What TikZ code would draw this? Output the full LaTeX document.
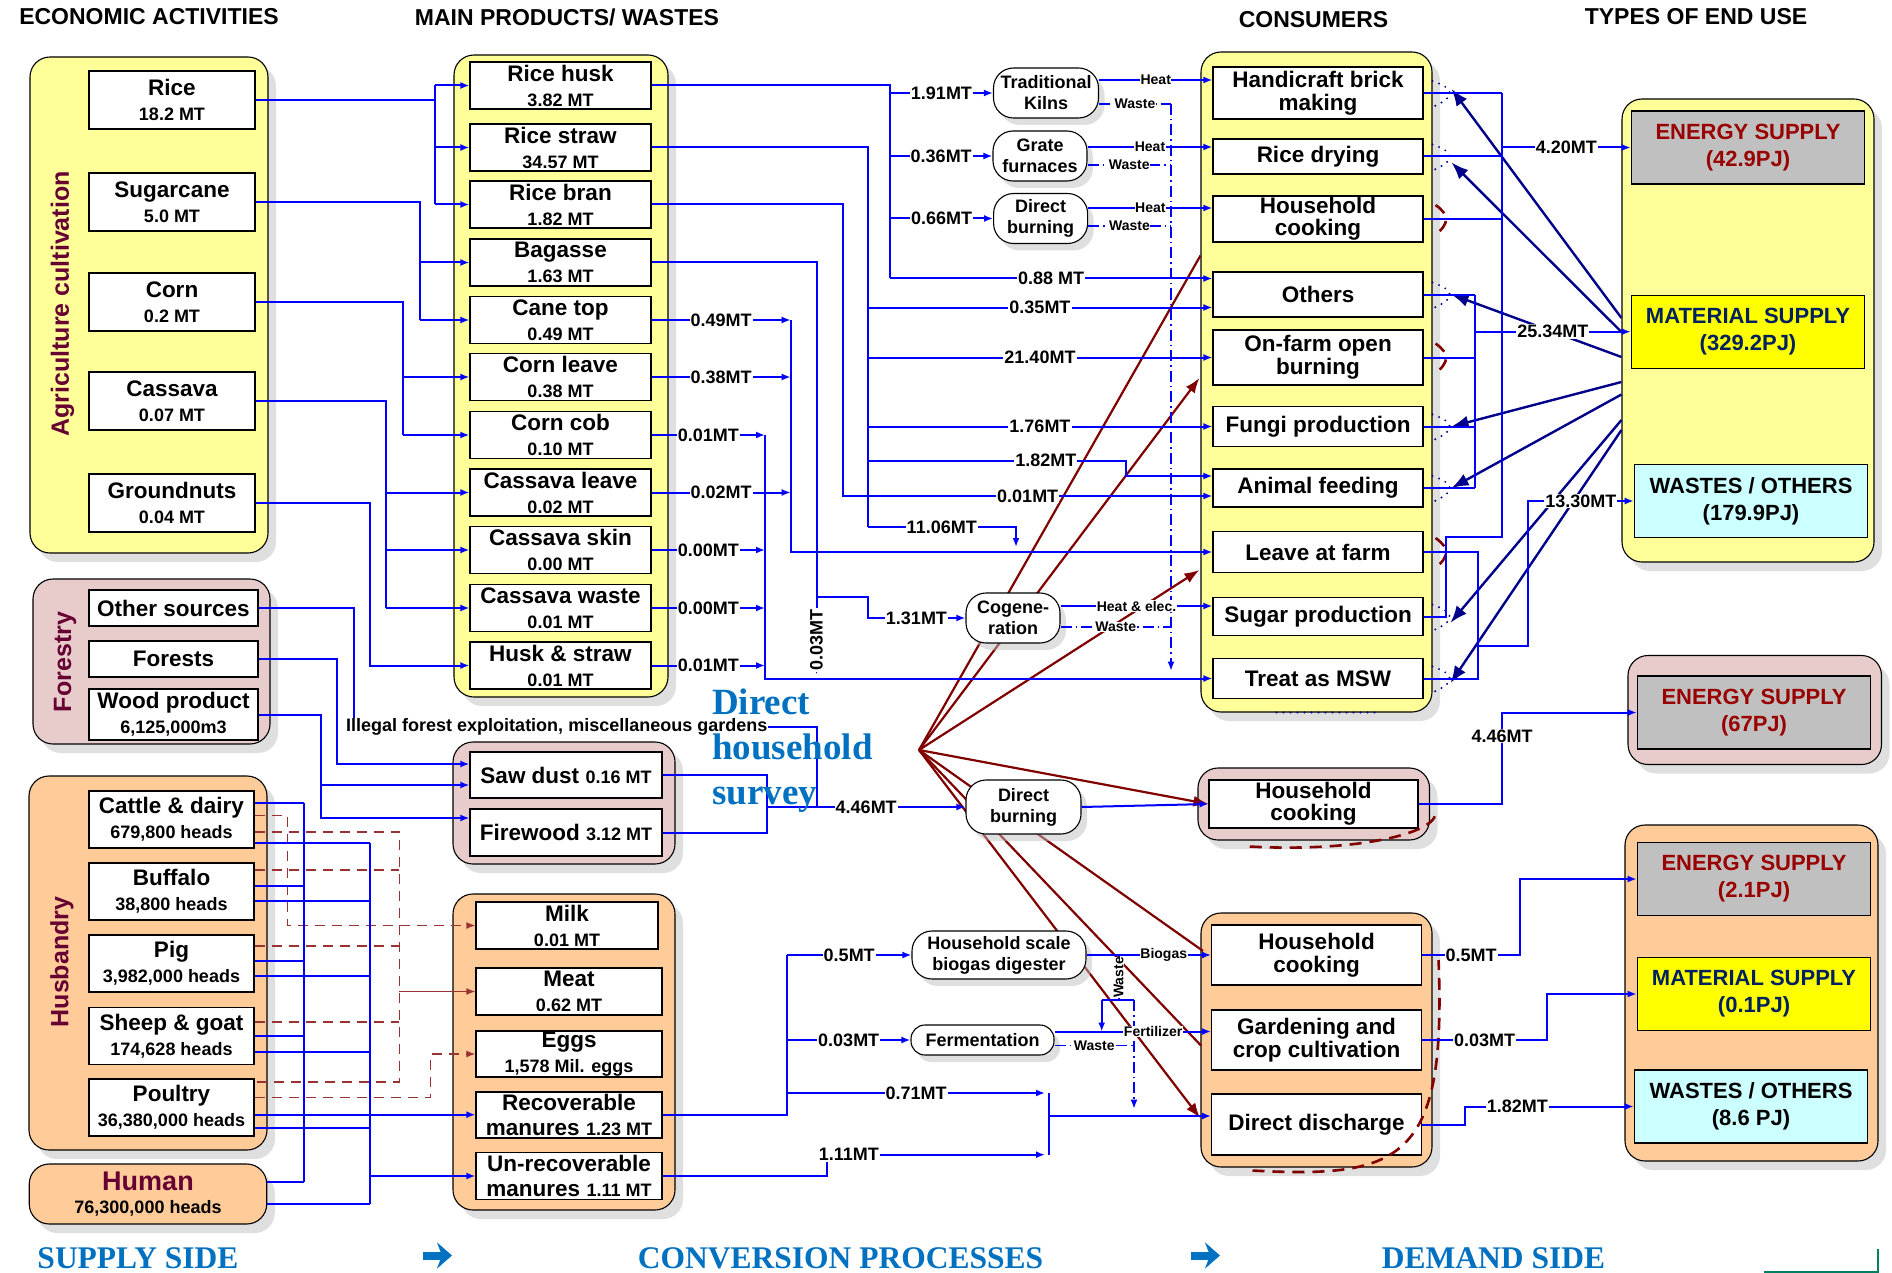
\documentclass[tikz,border=0pt]{standalone}
\usepackage{fontspec}
\setmainfont{Liberation Sans}
\newfontfamily\sideserif{Liberation Serif}
\usetikzlibrary{arrows.meta,shadows}

\definecolor{agrifill}{RGB}{255,255,153}
\definecolor{forfill}{RGB}{232,204,204}
\definecolor{husfill}{RGB}{255,204,153}
\definecolor{greyfill}{RGB}{192,192,192}
\definecolor{cyanfill}{RGB}{204,255,255}
\definecolor{yelfill}{RGB}{255,255,0}
\definecolor{flowblue}{RGB}{0,0,255}
\definecolor{navyline}{RGB}{0,0,139}
\definecolor{redline}{RGB}{128,0,0}
\definecolor{dashbrown}{RGB}{153,51,51}
\definecolor{maroontxt}{RGB}{102,0,51}
\definecolor{energytxt}{RGB}{153,0,0}
\definecolor{materialtxt}{RGB}{0,32,96}
\definecolor{sideblue}{RGB}{0,112,192}
\definecolor{cornerteal}{RGB}{0,128,96}

\newcommand{\txtbig}{\fontsize{22.5}{25}\selectfont\bfseries}
\newcommand{\txtmid}{\fontsize{18}{21}\selectfont\bfseries}
\newcommand{\txtsml}{\fontsize{14}{15}\selectfont\bfseries}
\newcommand{\txtgrp}{\fontsize{25}{28}\selectfont\bfseries}
\newcommand{\txtend}{\fontsize{22}{27}\selectfont\bfseries}
\newcommand{\txtside}{\sideserif\fontsize{31.5}{34}\selectfont\bfseries}

\tikzset{
  grp/.style={draw, line width=1.1pt, rounded corners=20pt, drop shadow={shadow xshift=8pt, shadow yshift=-9pt, fill=black!25}},
  box/.style={draw, fill=white, line width=1.1pt, inner sep=0pt, align=center, font=\txtbig},
  src/.style={box, minimum width=166pt, minimum height=58pt},
  prod/.style={box, minimum width=181pt, minimum height=47pt},
  herd/.style={box, minimum width=165pt, minimum height=57pt},
  cons/.style={box, minimum width=210pt},
  endbox/.style={box, minimum width=233.5pt, minimum height=73pt, font=\txtend},
  proc/.style={draw, fill=white, line width=1.1pt, rounded corners=20pt, inner sep=0pt, align=center, font=\txtmid, drop shadow={shadow xshift=6pt, shadow yshift=-7pt, fill=black!25}},
  flow/.style={draw=flowblue, line width=2pt},
  waste/.style={draw=flowblue, line width=1.2pt, dash pattern=on 11pt off 4pt on 1.5pt off 4pt},
  lbl/.style={fill=white, inner sep=1pt, font=\txtmid},
  hlbl/.style={fill=white, inner sep=0.5pt, font=\txtsml},
  navy/.style={draw=navyline, line width=2.4pt, -{Latex[length=17pt,width=13pt]}},
  fan/.style={draw=redline, line width=2.2pt},
  fanarrow/.style={fan, -{Latex[length=15pt,width=11pt]}},
  dung/.style={draw=dashbrown, line width=1.5pt, dash pattern=on 10pt off 7pt},
  dotarc/.style={draw=navyline, line width=2.2pt, line cap=round, dash pattern=on 0pt off 7pt},
  redarc/.style={draw=redline, line width=2.6pt, dash pattern=on 12pt off 8pt},
  grplbl/.style={rotate=90, font=\txtgrp, text=maroontxt},
  headline/.style={font=\fontsize{23}{25}\selectfont\bfseries},
  sidearrow/.style={draw=sideblue, line width=8pt, -{Stealth[length=15pt,width=26pt,inset=5pt]}},
}

\begin{document}
\begin{tikzpicture}[x=1pt, y=-1pt, >={Latex[length=9pt,width=7pt]}]
\useasboundingbox (0,0) rectangle (1892,1273);

\node[headline] (tecon) at (149,17) {ECONOMIC ACTIVITIES};
\node[headline] (tprod) at (567,17) {MAIN PRODUCTS/ WASTES};
\node[headline] (tcons) at (1313.5,20) {CONSUMERS};
\node[headline] (tend) at (1696,17) {TYPES OF END USE};

\node[grp, fill=agrifill, minimum width=238pt, minimum height=496pt] (agri) at (149,305) {};
\node[grp, fill=agrifill, minimum width=214pt, minimum height=642pt] (prodgrp) at (561,376) {};
\node[grp, fill=forfill, minimum width=237pt, minimum height=165pt] (forgrp) at (151.5,661.5) {};
\node[grp, fill=husfill, minimum width=238pt, minimum height=374pt] (husgrp) at (148,963) {};
\node[grp, fill=husfill, minimum width=237.5pt, minimum height=60pt, align=center, font=\txtmid] (human) at (148,1194) {\textcolor{maroontxt}{\fontsize{27}{30}\selectfont Human}\\[2pt]76,300,000 heads};
\node[grp, fill=forfill, minimum width=222pt, minimum height=122pt] (woodgrp) at (564,803) {};
\node[grp, fill=husfill, minimum width=222pt, minimum height=316pt] (hprodgrp) at (564,1052) {};
\node[grp, fill=agrifill, minimum width=231pt, minimum height=660pt] (consgrp) at (1316.5,382) {};
\node[grp, fill=forfill, minimum width=231.5pt, minimum height=72pt] (consgrpB) at (1313.75,804) {};
\node[grp, fill=husfill, minimum width=231pt, minimum height=254pt] (consgrpC) at (1316.5,1040) {};
\node[grp, fill=agrifill, minimum width=252pt, minimum height=463pt] (endgrpA) at (1748,330.5) {};
\node[grp, fill=forfill, minimum width=253.5pt, minimum height=109pt] (endgrpB) at (1754.75,710) {};
\node[grp, fill=husfill, minimum width=253pt, minimum height=336pt] (endgrpC) at (1751.5,993) {};

\node[grplbl] (agrilbl) at (62.5,304) {Agriculture cultivation};
\node[grplbl] (forlbl) at (65,662) {Forestry};
\node[grplbl] (huslbl) at (62,962) {Husbandry};

\node[src] (rice) at (172,100) {Rice\\{\txtmid 18.2 MT}};
\node[src] (sugar) at (172,202) {Sugarcane\\{\txtmid 5.0 MT}};
\node[src] (corn) at (172,302) {Corn\\{\txtmid 0.2 MT}};
\node[src] (cassava) at (172,401) {Cassava\\{\txtmid 0.07 MT}};
\node[src] (gnuts) at (172,503) {Groundnuts\\{\txtmid 0.04 MT}};

\node[prod] (husk) at (560.5,85.5) {Rice husk\\{\txtmid 3.82 MT}};
\node[prod] (straw) at (560.5,147.5) {Rice straw\\{\txtmid 34.57 MT}};
\node[prod] (bran) at (560.5,204.5) {Rice bran\\{\txtmid 1.82 MT}};
\node[prod] (bagasse) at (560.5,262.5) {Bagasse\\{\txtmid 1.63 MT}};
\node[prod] (canetop) at (560.5,320) {Cane top\\{\txtmid 0.49 MT}};
\node[prod] (cornleave) at (560.5,377) {Corn leave\\{\txtmid 0.38 MT}};
\node[prod] (corncob) at (560.5,435) {Corn cob\\{\txtmid 0.10 MT}};
\node[prod] (cassleave) at (560.5,492.5) {Cassava leave\\{\txtmid 0.02 MT}};
\node[prod] (cassskin) at (560.5,550) {Cassava skin\\{\txtmid 0.00 MT}};
\node[prod] (casswaste) at (560.5,608) {Cassava waste\\{\txtmid 0.01 MT}};
\node[prod] (huskstraw) at (560.5,665.5) {Husk \& straw\\{\txtmid 0.01 MT}};

\node[box, minimum width=169pt, minimum height=36pt] (othersrc) at (173.5,608) {Other sources};
\node[box, minimum width=169pt, minimum height=36pt] (forests) at (173.5,659) {Forests};
\node[box, minimum width=169pt, minimum height=51pt] (woodprod) at (173.5,714.5) {Wood product\\{\txtmid 6,125,000m3}};

\node[herd] (cattle) at (171.5,819.5) {Cattle \& dairy\\{\txtmid 679,800 heads}};
\node[herd] (buffalo) at (171.5,891.5) {Buffalo\\{\txtmid 38,800 heads}};
\node[herd] (pig) at (171.5,963.5) {Pig\\{\txtmid 3,982,000 heads}};
\node[herd] (sheep) at (171.5,1036) {Sheep \& goat\\{\txtmid 174,628 heads}};
\node[herd] (poultry) at (171.5,1107.5) {Poultry\\{\txtmid 36,380,000 heads}};

\node[box, minimum width=192pt, minimum height=46pt] (sawdust) at (566,775) {Saw dust {\txtmid 0.16 MT}};
\node[box, minimum width=192pt, minimum height=47pt] (firewood) at (566,832.5) {Firewood {\txtmid 3.12 MT}};

\node[box, minimum width=182pt, minimum height=47pt] (milk) at (567,925.5) {Milk\\{\txtmid 0.01 MT}};
\node[box, minimum width=186pt, minimum height=47pt] (meat) at (569,991.5) {Meat\\{\txtmid 0.62 MT}};
\node[box, minimum width=186pt, minimum height=46pt] (eggs) at (569,1054) {Eggs\\{\txtmid 1,578 Mil. eggs}};
\node[box, minimum width=186pt, minimum height=46pt] (recman) at (569,1115) {Recoverable\\manures {\txtmid 1.23 MT}};
\node[box, minimum width=186pt, minimum height=47pt] (unrecman) at (569,1176) {Un-recoverable\\manures {\txtmid 1.11 MT}};

\node[cons, minimum height=52pt] (handicraft) at (1318,93) {Handicraft brick\\[-2pt]making};
\node[cons, minimum height=35pt] (ricedry) at (1318,156.5) {Rice drying};
\node[cons, minimum height=46pt] (hhcook) at (1318,219) {Household\\[-3pt]cooking};
\node[cons, minimum height=45pt] (others) at (1318,294.5) {Others};
\node[cons, minimum height=55pt] (onfarm) at (1318,357.5) {On-farm open\\[-2pt]burning};
\node[cons, minimum height=40pt] (fungi) at (1318,426.5) {Fungi production};
\node[cons, minimum height=38pt] (animal) at (1318,488) {Animal feeding};
\node[cons, minimum height=41pt] (leave) at (1318,552) {Leave at farm};
\node[cons, minimum height=38pt] (sugarprod) at (1318,616.7) {Sugar production};
\node[cons, minimum height=40pt] (msw) at (1318,678.5) {Treat as MSW};
\node[cons, minimum width=209pt, minimum height=48pt] (hhcookB) at (1313.5,804) {Household\\[-3pt]cooking};
\node[cons, minimum height=60pt] (hhcookC) at (1316.6,955) {Household\\[-2pt]cooking};
\node[cons, minimum height=60pt] (garden) at (1316.6,1040) {Gardening and\\[-2pt]crop cultivation};
\node[cons, minimum height=61pt] (discharge) at (1316.6,1124.5) {Direct discharge};

\node[endbox, fill=greyfill, text=energytxt] (energyA) at (1748,147.5) {ENERGY SUPPLY\\(42.9PJ)};
\node[endbox, fill=yelfill, text=materialtxt] (materialA) at (1748,331.7) {MATERIAL SUPPLY\\(329.2PJ)};
\node[endbox, fill=cyanfill] (wastesA) at (1751,501) {WASTES / OTHERS\\(179.9PJ)};
\node[endbox, fill=greyfill, text=energytxt] (energyB) at (1754,712.5) {ENERGY SUPPLY\\(67PJ)};
\node[endbox, fill=greyfill, text=energytxt] (energyC) at (1754,879) {ENERGY SUPPLY\\(2.1PJ)};
\node[endbox, fill=yelfill, text=materialtxt] (materialC) at (1754,994) {MATERIAL SUPPLY\\(0.1PJ)};
\node[endbox, fill=cyanfill] (wastesC) at (1751,1106.5) {WASTES / OTHERS\\(8.6 PJ)};

\foreach \nm in {handicraft,ricedry,others,fungi,animal,sugarprod,msw}
  \draw[dotarc] ([xshift=9pt,yshift=12pt]\nm.east) .. controls ([xshift=32pt,yshift=4pt]\nm.east) and ([xshift=32pt,yshift=-4pt]\nm.east) .. ([xshift=9pt,yshift=-14pt]\nm.east);
\foreach \nm in {hhcook,onfarm,leave}
  \draw[redarc] ([xshift=12pt,yshift=14pt]\nm.east) .. controls ([xshift=26pt,yshift=4pt]\nm.east) and ([xshift=26pt,yshift=-4pt]\nm.east) .. ([xshift=12pt,yshift=-16pt]\nm.east);
\draw[dotarc] ([xshift=-40pt]consgrp.south) -- ([xshift=64pt]consgrp.south);
\draw[redarc] ([xshift=-64pt,yshift=-6pt]consgrpB.south) .. controls +(110,6) and +(8,22) .. ([xshift=5pt,yshift=-6pt]consgrpB.east);
\draw[redarc] ([xshift=-64pt,yshift=-3pt]consgrpC.south) .. controls +(150,8) and +(8,200) .. ([xshift=6pt,yshift=80pt]consgrpC.east);

\coordinate (hub) at (919,750);
\coordinate (rfA) at ([xshift=-12pt,yshift=-13pt]hhcook.south west);
\coordinate (rfB) at ([xshift=-13pt,yshift=-20.5pt]onfarm.west);
\coordinate (rfC) at ([xshift=-13pt,yshift=-18pt]leave.west);
\coordinate (rfE) at ([xshift=-8pt,yshift=4pt]hhcookC.west);
\coordinate (rfF) at ([xshift=-10pt,yshift=-5.6pt]garden.west);
\coordinate (rfG) at ([xshift=-11pt,yshift=6.5pt]discharge.west);
\draw[fan] (hub) -- (rfA);
\draw[fanarrow] (hub) -- (rfB);
\draw[fanarrow] (hub) -- (rfC);
\draw[fanarrow] (hub) -- (hhcookB.west);
\draw[fan] (hub) -- (rfE);
\draw[fan] (hub) -- (rfF);
\draw[fanarrow] (hub) -- (rfG);

\node[proc, minimum width=105pt, minimum height=50pt] (kilns) at (1046,93) {Traditional\\Kilns};
\node[proc, minimum width=94pt, minimum height=50pt] (grate) at (1040,156) {Grate\\furnaces};
\node[proc, minimum width=94pt, minimum height=50pt] (dburnA) at (1040.6,218.5) {Direct\\burning};
\node[proc, minimum width=94pt, minimum height=50pt] (cogen) at (1013,618) {Cogene-\\ration};
\node[proc, minimum width=115pt, minimum height=54pt] (dburnB) at (1023.5,807) {Direct\\burning};
\node[proc, minimum width=174pt, minimum height=48pt] (biogas) at (999,955) {Household scale\\biogas digester};
\node[proc, minimum width=143pt, minimum height=30pt, rounded corners=14pt] (ferment) at (982.5,1040) {Fermentation};

\coordinate (nvA) at ([xshift=28pt,yshift=4pt]handicraft.east);
\coordinate (nvB) at ([xshift=28pt,yshift=-6pt]ricedry.east);
\coordinate (nvC) at ([xshift=28pt]others.east);
\coordinate (nvD) at ([xshift=28pt]fungi.east);
\coordinate (nvE) at ([xshift=28pt]animal.east);
\coordinate (nvF) at ([xshift=27pt,yshift=-6pt]sugarprod.east);
\coordinate (nvG) at ([xshift=27pt,yshift=-4.5pt]msw.east);
\foreach \dy/\nv in {12.5/nvA,-1.5/nvB,-26.5/nvC,-51.5/nvD,-64/nvE,-89.5/nvF,-99.5/nvG}
  \draw[navy] ([yshift=\dy pt]endgrpA.west) -- (\nv);

\coordinate (jR) at (435,0);
\coordinate (jS) at (420,0);
\coordinate (jC) at (403,0);
\coordinate (jV) at (386,0);
\coordinate (jG) at (370,0);
\draw[flow] (rice.east) -- (rice.east -| jR);
\draw[flow] (jR |- husk.west) -- (jR |- bran.west);
\foreach \nm in {husk,straw,bran} \draw[flow,->] (jR |- \nm.west) -- (\nm.west);
\draw[flow] (sugar.east) -| (jS |- canetop.west);
\foreach \nm in {bagasse,canetop} \draw[flow,->] (jS |- \nm.west) -- (\nm.west);
\draw[flow] (corn.east) -| (jC |- corncob.west);
\foreach \nm in {cornleave,corncob} \draw[flow,->] (jC |- \nm.west) -- (\nm.west);
\draw[flow] (cassava.east) -| (jV |- casswaste.west);
\foreach \nm in {cassleave,cassskin,casswaste} \draw[flow,->] (jV |- \nm.west) -- (\nm.west);
\draw[flow,->] (gnuts.east) -| (jG |- huskstraw.west) -- (huskstraw.west);

\coordinate (jH) at (890,0);
\coordinate (oth1) at ([yshift=16pt]others.west);
\coordinate (oth2) at ([yshift=-13pt]others.west);
\draw[flow] (husk.east) -| (jH |- oth1);
\draw[flow,->] (jH |- kilns.west) -- node[lbl] (l191) {1.91MT} (kilns.west);
\draw[flow,->] (jH |- grate.west) -- node[lbl] (l036) {0.36MT} (grate.west);
\draw[flow,->] (jH |- dburnA.west) -- node[lbl] (l066) {0.66MT} (dburnA.west);
\draw[flow,->] (jH |- oth1) -- node[lbl] (l088) {0.88 MT} (oth1);

\coordinate (jW) at (1171,0);
\coordinate (kH) at ([yshift=13pt]kilns.east);
\coordinate (kW) at ([yshift=-11pt]kilns.east);
\coordinate (gH) at ([yshift=9pt]grate.east);
\coordinate (gW) at ([yshift=-9pt]grate.east);
\coordinate (dH) at ([yshift=10.5pt]dburnA.east);
\coordinate (dW) at ([yshift=-7.5pt]dburnA.east);
\coordinate (cH) at ([yshift=12pt]cogen.east);
\coordinate (cW) at ([yshift=-9pt]cogen.east);
\coordinate (mswT) at ([yshift=8pt]msw.west);
\draw[waste,->] (kW -| jW) -- (jW |- mswT);
\draw[flow,->] (kH) -- node[hlbl] (lh1) {Heat} (kH -| handicraft.west);
\draw[flow,->] (gH) -- node[hlbl] (lh2) {Heat} (gH -| ricedry.west);
\draw[flow,->] (dH) -- node[hlbl] (lh3) {Heat} (dH -| hhcook.west);
\draw[flow,->] (cH) -- node[hlbl] (lh4) {Heat \& elec.} (cH -| sugarprod.west);
\draw[waste] (kW) -- node[hlbl] (lw1) {Waste} (kW -| jW);
\draw[waste] (gW) -- node[hlbl] (lw2) {Waste} (gW -| jW);
\draw[waste] (dW) -- node[hlbl] (lw3) {Waste} (dW -| jW);
\draw[waste] (cW) -- node[hlbl] (lw4) {Waste} (cW -| jW);

\coordinate (jT) at (867.5,0);
\coordinate (a182) at (1126,460.5);
\coordinate (a1106) at (1016,527);
\coordinate (anim1) at ([yshift=12pt]animal.west);
\coordinate (anim2) at ([yshift=-8pt]animal.west);
\coordinate (leaveT) at ([yshift=5pt]leave.west);
\draw[flow] (straw.east) -| (jT |- a1106);
\draw[flow,->] (jT |- oth2) -- node[lbl] (l035) {0.35MT} (oth2);
\draw[flow,->] (jT |- onfarm.west) -- node[lbl] (l2140) {21.40MT} (onfarm.west);
\draw[flow,->] (jT |- fungi.west) -- node[lbl] (l176) {1.76MT} (fungi.west);
\draw[flow,->] (jT |- a182) -- node[lbl,pos=0.69] (l182a) {1.82MT} (a182) |- (anim1);
\draw[flow,->] (jT |- a1106) -- node[lbl] (l1106) {11.06MT} (a1106) -- (a1106 |- leaveT);

\coordinate (jB) at (843,0);
\draw[flow,->] (bran.east) -| (jB |- anim2) -- node[lbl] (l001a) {0.01MT} (anim2);

\coordinate (jA) at (816.5,0);
\coordinate (a131) at (867.5,597);
\coordinate (mswA) at ([yshift=4pt]msw.west);
\draw[flow,->] (bagasse.east) -| (jA |- mswA);
\draw[flow,->] (jA |- a131) -- (a131) |- node[lbl,pos=0.75] (l131) {1.31MT} (cogen.west);

\coordinate (jK) at (790.7,0);
\draw[flow,->] (canetop.east) -- node[lbl] (l049) {0.49MT} (canetop.east -| jK);
\draw[flow,->] (cornleave.east) -- node[lbl] (l038) {0.38MT} (cornleave.east -| jK);
\draw[flow,->] (cassleave.east) -- node[lbl] (l002) {0.02MT} (cassleave.east -| jK);
\draw[flow,->] (jK |- canetop.east) -- (jK |- leave.west) -- (leave.west);

\coordinate (jM) at (765,0);
\draw[flow,->] (corncob.east) -- node[lbl] (l001b) {0.01MT} (corncob.east -| jM);
\draw[flow,->] (cassskin.east) -- node[lbl] (l000a) {0.00MT} (cassskin.east -| jM);
\draw[flow,->] (casswaste.east) -- node[lbl] (l000b) {0.00MT} (casswaste.east -| jM);
\draw[flow,->] (huskstraw.east) -- node[lbl] (l001c) {0.01MT} (huskstraw.east -| jM);
\draw[flow,->] (jM |- corncob.east) -- (jM |- msw.west) -- (msw.west);
\node[lbl, rotate=90] (l003a) at (816.5,640) {0.03MT};

\coordinate (jO) at (353.5,0);
\coordinate (jF) at (337,0);
\coordinate (jP) at (320.5,0);
\coordinate (saw1) at ([yshift=11pt]sawdust.west);
\coordinate (saw2) at ([yshift=-10pt]sawdust.west);
\coordinate (fire1) at ([yshift=14.5pt]firewood.west);
\node[font=\txtmid, anchor=west, inner sep=0pt] (illegal) at (346,727) {Illegal forest exploitation, miscellaneous gardens};
\draw[flow] (othersrc.east) -| (jO |- illegal.north);
\draw[flow,->] (forests.east) -| (jF |- saw1) -- (saw1);
\draw[flow,->] (woodprod.east) -| (jP |- fire1) -- (fire1);
\draw[flow,->] (jP |- saw2) -- (saw2);

\coordinate (jD) at (767,0);
\coordinate (jI) at (816.5,0);
\draw[flow] (sawdust.east) -| (jD |- firewood.east) -- (firewood.east);
\draw[flow] (illegal.east) -| (jI |- dburnB.west);
\draw[flow,->] (jD |- dburnB.west) -- node[lbl] (l446a) {4.46MT} (dburnB.west);
\draw[flow,->] (dburnB.east) -- (hhcookB.west);
\coordinate (jE) at (1502,0);
\draw[flow,->] (hhcookB.east) -| (jE |- energyB.west) -- (energyB.west);
\node[lbl] (l446b) at (1502,736) {4.46MT};

\coordinate (jSg) at (1445.7,0);
\coordinate (a537) at (1502,536.7);
\draw[flow] (handicraft.east) -- (handicraft.east -| jE);
\draw[flow] (ricedry.east) -- (ricedry.east -| jE);
\draw[flow] (hhcook.east) -- (hhcook.east -| jE);
\draw[flow] (jE |- handicraft.east) -- (a537) -| (jSg |- sugarprod.east) -- (sugarprod.east);
\draw[flow,->] (jE |- energyA.west) -- node[lbl] (l420) {4.20MT} (energyA.west);

\coordinate (jFm) at (1475,0);
\foreach \nm in {others,onfarm,fungi,animal} \draw[flow] (\nm.east) -- (\nm.east -| jFm);
\draw[flow] (jFm |- others.east) -- (jFm |- animal.east);
\draw[flow,->] (jFm |- materialA.west) -- node[lbl] (l2534) {25.34MT} (materialA.west);

\coordinate (jL) at (1477.7,0);
\coordinate (a646) at (1528,646);
\draw[flow] (leave.east) -| (jL |- msw.east) -- (msw.east);
\draw[flow,->] (jL |- a646) -- (a646) |- node[lbl,pos=0.75] (l1330) {13.30MT} (wastesA.west);

\coordinate (jMk) at (287.3,0);
\coordinate (jMt) at (399.3,0);
\coordinate (jEg) at (430.7,0);
\coordinate (catD1) at ([yshift=3.8pt]cattle.east);
\coordinate (catD2) at ([yshift=-12.5pt]cattle.east);
\coordinate (bufD) at ([yshift=21.5pt]buffalo.east);
\coordinate (pigD) at ([yshift=17.5pt]pig.east);
\coordinate (shpD) at ([yshift=14pt]sheep.east);
\coordinate (poD1) at ([yshift=25.5pt]poultry.east);
\coordinate (poD2) at ([yshift=9.8pt]poultry.east);
\draw[dung,->] (catD1) -| (jMk |- milk.west) -- (milk.west);
\draw[dung] (catD2) -| (jMt |- poD1) -- (poD1);
\foreach \nm in {bufD,pigD,shpD} \draw[dung] (\nm) -- (\nm -| jMt);
\draw[draw=dashbrown, line width=1.5pt, ->] (jMt |- meat.west) -- (meat.west);
\draw[dung,->] (poD2) -| (jEg |- eggs.west) -- (eggs.west);

\coordinate (jHa) at (304,0);
\coordinate (jHb) at (370,0);
\coordinate (catA) at ([yshift=16.5pt]cattle.east);
\coordinate (bufA) at ([yshift=5.8pt]buffalo.east);
\coordinate (pigA) at ([yshift=2.5pt]pig.east);
\coordinate (shpA) at (sheep.east);
\coordinate (humA) at ([yshift=12pt]human.east);
\coordinate (poA) at ([yshift=-7.2pt]poultry.east);
\coordinate (catB) at ([yshift=-23.2pt]cattle.east);
\coordinate (bufB) at ([yshift=-9.2pt]buffalo.east);
\coordinate (pigB) at ([yshift=-12.5pt]pig.east);
\coordinate (shpB) at ([yshift=-16pt]sheep.east);
\coordinate (poB) at ([yshift=-20.2pt]poultry.east);
\coordinate (humB) at ([yshift=-10.3pt]human.east);
\foreach \nm in {catA,bufA,pigA,shpA,humA} \draw[flow] (\nm) -- (\nm -| jHa);
\draw[flow] (jHa |- catA) -- (jHa |- humA);
\draw[flow,->] (poA) -- (poA -| recman.west);
\foreach \nm in {catB,bufB,pigB,shpB,poB,humB} \draw[flow] (\nm) -- (\nm -| jHb);
\draw[flow] (jHb |- catB) -- (jHb |- humB);
\draw[flow,->] (jHb |- unrecman.west) -- (unrecman.west);

\coordinate (jRm) at (787,0);
\coordinate (jUm) at (827,0);
\coordinate (jDd) at (1048.6,0);
\coordinate (a071) at (1045,1093);
\coordinate (a111) at (1045,1154.7);
\coordinate (disA) at ([yshift=8.5pt]discharge.west);
\coordinate (disW) at ([yshift=16pt]discharge.west);
\draw[flow] (recman.east) -| (jRm |- biogas.west);
\draw[flow,->] (jRm |- biogas.west) -- node[lbl] (l05a) {0.5MT} (biogas.west);
\draw[flow,->] (jRm |- ferment.west) -- node[lbl] (l003b) {0.03MT} (ferment.west);
\draw[flow,->] (jRm |- a071) -- node[lbl] (l071) {0.71MT} (a071);
\draw[flow,->] (unrecman.east) -| (jUm |- a111) -- node[lbl,pos=0.1] (l111) {1.11MT} (a111);
\draw[flow] (jDd |- a071) -- (jDd |- a111);
\draw[flow,->] (jDd |- disA) -- (disA);

\coordinate (bw1) at (1118.7,1000);
\coordinate (bwL) at (1101.7,1000);
\coordinate (bwR) at (1134,1000);
\coordinate (fer1) at ([yshift=8.5pt]ferment.east);
\coordinate (fer2) at ([yshift=-5.6pt]ferment.east);
\draw[flow,->] (biogas.east) -- node[hlbl,pos=0.62] (lbio) {Biogas} (biogas.east -| hhcookC.west);
\draw[flow] (biogas.east -| bw1) -- node[hlbl,rotate=90] (lbw) {Waste} (bw1);
\draw[flow] (bwL) -- (bwR);
\draw[flow,->] (bwL) -- (bwL |- fer1);
\draw[waste,->] (bwR) -- (bwR |- disW);
\draw[flow,->] (fer1) -- node[hlbl,pos=0.63] (lfert) {Fertilizer} (fer1 -| garden.west);
\draw[waste] (fer2) -- node[hlbl] (lfw) {Waste} (fer2 -| bwR);

\coordinate (jQ1) at (1520,0);
\coordinate (jQ2) at (1547,0);
\coordinate (jQ3) at (1465,0);
\draw[flow,->] (hhcookC.east) -- node[lbl] (l05b) {0.5MT} (hhcookC.east -| jQ1) |- (energyC.west);
\draw[flow,->] (garden.east) -- node[lbl] (l003c) {0.03MT} (garden.east -| jQ2) |- (materialC.west);
\draw[flow,->] (discharge.east) -| (jQ3 |- wastesC.west) -- node[lbl,pos=0.31] (l182b) {1.82MT} (wastesC.west);

\node[font=\sideserif\fontsize{37}{45}\selectfont\bfseries, text=sideblue, align=left, anchor=north west, inner sep=0pt] (survey) at (712,689) {Direct\\household\\survey};

\node[font=\txtside, text=sideblue, anchor=base] (supply) at (138,1268) {SUPPLY SIDE};
\node[font=\txtside, text=sideblue, anchor=base] (conv) at (840.5,1268) {CONVERSION PROCESSES};
\node[font=\txtside, text=sideblue, anchor=base] (demand) at (1493.5,1268) {DEMAND SIDE};
\coordinate (arr1a) at (423,1255.5);
\coordinate (arr1b) at (452,1255.5);
\coordinate (arr2a) at (1191,1255.5);
\coordinate (arr2b) at (1220,1255.5);
\draw[sidearrow] (arr1a) -- (arr1b);
\draw[sidearrow] (arr2a) -- (arr2b);

\coordinate (tealA) at (1877.5,1249);
\coordinate (tealB) at (1877.5,1272);
\coordinate (tealC) at (1764,1272);
\draw[draw=cornerteal, line width=2pt] (tealA) -- (tealB) -- (tealC);
\end{tikzpicture}
\end{document}
